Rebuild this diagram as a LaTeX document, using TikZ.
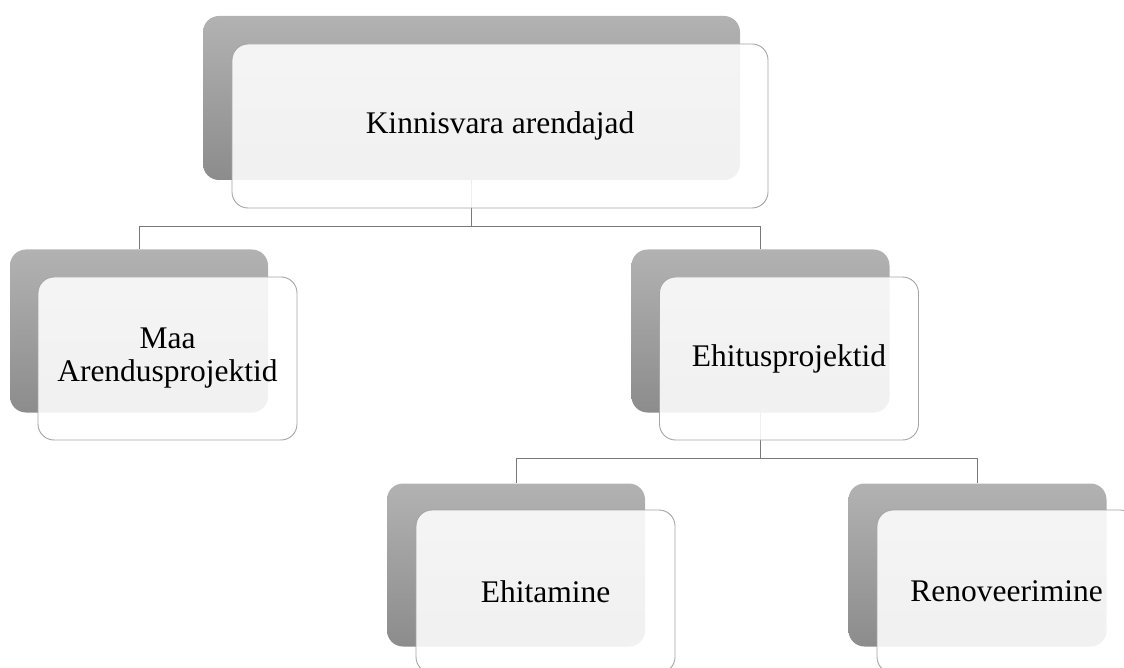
\documentclass[tikz,border=0pt]{standalone}
\usepackage{fontspec}
\setmainfont{Liberation Serif}
\usetikzlibrary{backgrounds}
\definecolor{backtop}{RGB}{178,178,178}
\definecolor{backbot}{RGB}{140,140,140}
\definecolor{frontline}{RGB}{165,165,165}
\definecolor{connline}{RGB}{120,120,120}
\tikzset{
  backbox/.style={rectangle, rounded corners=16pt, inner sep=0pt, draw=none,
    top color=backtop, bottom color=backbot, minimum width=258pt, minimum height=163pt},
  frontbox/.style={rectangle, rounded corners=16pt, inner sep=0pt, draw=frontline, line width=0.9pt,
    fill=white, fill opacity=0.88, text opacity=1, minimum width=259pt, minimum height=163pt,
    align=center, font=\fontsize{31.5}{33}\selectfont},
  conn/.style={draw=connline, line width=0.9pt}
}
\begin{document}
\begin{tikzpicture}[x=1pt,y=-1pt]
\useasboundingbox (0,0) rectangle (1124,668);
% top
\node[backbox, minimum width=537pt, minimum height=164pt] (topb) at (471.5,98) {};
\node[frontbox, minimum width=536pt, minimum height=164pt] (topf) at (500,126) {Kinnisvara arendajad};
% level 2
\node[backbox] (maab) at (139,331) {};
\node[frontbox] (maaf) at (167.5,358.5) {Maa\\Arendusprojektid};
\node[backbox] (ehb) at (760.5,331) {};
\node[frontbox] (ehf) at (789,358.5) {Ehitusprojektid};
% level 3
\node[backbox] (ehtb) at (516,565) {};
\node[frontbox] (ehtf) at (545.5,591.5) {Ehitamine};
\node[backbox] (renb) at (977.5,565) {};
\node[frontbox] (renf) at (1006.5,591.5) {Renoveerimine};
% connectors
\begin{scope}[on background layer]
\coordinate (j1) at ([yshift=-46pt]topb.south);
\draw[conn] (topb.south) -- (j1) -| (maab.north);
\draw[conn] (j1) -| (ehb.north);
\coordinate (j2) at ([yshift=-46pt]ehb.south);
\draw[conn] (ehb.south) -- (j2) -| (ehtb.north);
\draw[conn] (j2) -| (renb.north);
\end{scope}
\end{tikzpicture}
\end{document}
